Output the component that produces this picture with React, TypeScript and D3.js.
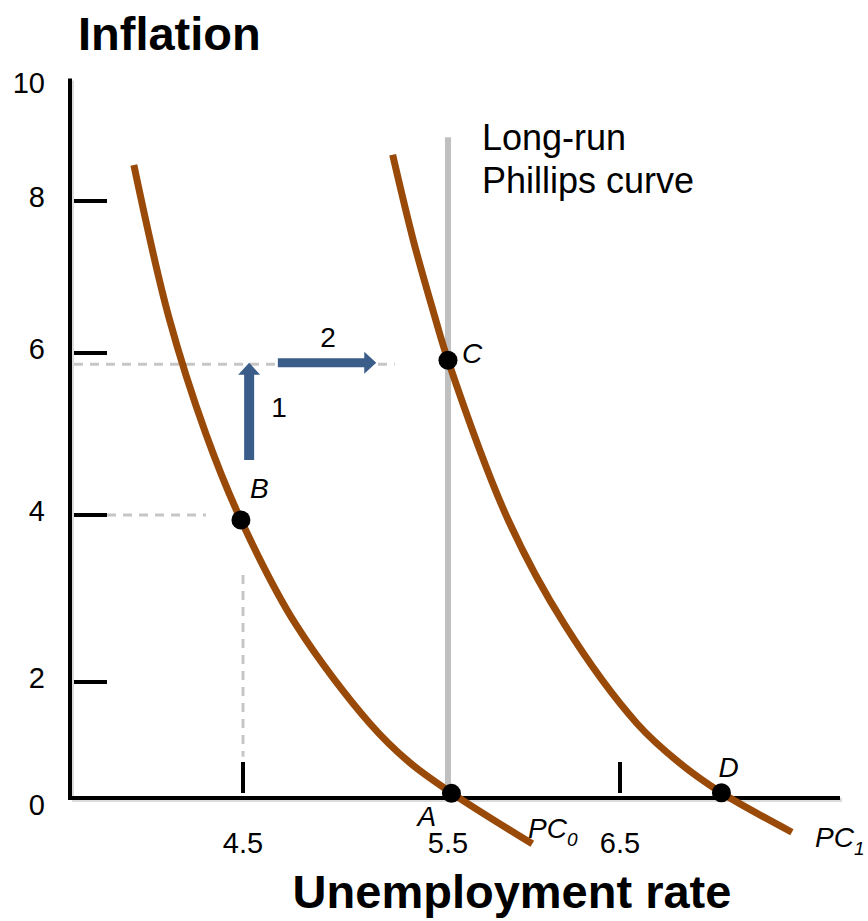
import { useEffect } from 'react';
import * as d3 from 'd3';

// axis ticks
const yTicks = [0, 2, 4, 6, 8, 10];
const yTickMarks = [2, 4, 6, 8];
const xTicks = [4.5, 5.5, 6.5];
const xTickMarks = [4.5, 6.5];

// short-run Phillips curves (unemployment %, inflation %)
const pc0U = [3.97, 4.14, 4.32, 4.49, 4.76, 5.12, 5.31, 5.52, 5.99];
const pc0Pi = [8.63, 6.47, 5.0, 3.94, 2.68, 1.28, 0.62, 0.09, -0.79];
const pc1U = [5.23, 5.33, 5.43, 5.5, 5.85, 6.18, 6.6, 6.84, 7.09, 7.5];
const pc1Pi = [8.81, 7.49, 6.53, 5.91, 3.94, 2.68, 1.28, 0.62, 0.09, -0.59];

// long-run Phillips curve
const lrpcU = 5.5;
const lrpcTop = 9.12;

// labelled points
const pointNames = ['A', 'B', 'C', 'D'];
const pointU = [5.52, 4.49, 5.5, 7.09];
const pointPi = [0.08, 3.94, 5.91, 0.09];

// guide lines and arrows
const guideHigh = 5.86;
const guideLow = 4;
const arrowPi = 5.88;

export default function App() {
  useEffect(() => {
    document.body.style.margin = '0';
  }, []);

  const width = 868;
  const height = 921;
  const font = '"Liberation Sans", Arial, Helvetica, sans-serif';

  const x = d3.scaleLinear().domain([3.66, 4.5, 5.5, 6.5, 7.78]).range([70, 243, 448, 620, 840]);
  const y = d3.scaleLinear().domain([0, 2, 4, 6, 8, 10]).range([798, 682, 515, 353, 201, 87]);

  const line = d3
    .line<[number, number]>()
    .x((d) => x(d[0]))
    .y((d) => y(d[1]))
    .curve(d3.curveCatmullRom.alpha(0.5));

  const pc0 = pc0U.map((u, i) => [u, pc0Pi[i]] as [number, number]);
  const pc1 = pc1U.map((u, i) => [u, pc1Pi[i]] as [number, number]);

  const curveColor = '#9a4a08';
  const arrowColor = '#3a5d8a';
  const guideColor = '#c6c6c6';

  // label offsets around each dot
  const labelOffset: Record<string, [number, number]> = {
    A: [-34, 33],
    B: [9, -22],
    C: [14, 3],
    D: [-3, -16],
  };

  // arrow 1 (vertical) and arrow 2 (horizontal)
  const a1x = x(4.53);
  const a1y0 = y(4.68);
  const a1y1 = y(arrowPi);
  const a1 = [
    [a1x - 5, a1y0],
    [a1x - 5, a1y1 + 12],
    [a1x - 11, a1y1 + 12],
    [a1x, a1y1],
    [a1x + 11, a1y1 + 12],
    [a1x + 5, a1y1 + 12],
    [a1x + 5, a1y0],
  ];
  const a2y = y(arrowPi);
  const a2x0 = x(4.67);
  const a2x1 = x(5.15);
  const a2 = [
    [a2x0, a2y - 4.5],
    [a2x1 - 12, a2y - 4.5],
    [a2x1 - 12, a2y - 11],
    [a2x1, a2y],
    [a2x1 - 12, a2y + 11],
    [a2x1 - 12, a2y + 4.5],
    [a2x0, a2y + 4.5],
  ];

  const x0 = x(3.66);
  const xEnd = x(7.78);

  return (
    <div style={{ position: 'absolute', left: 0, top: 0 }}>
      <svg width={width} height={height} style={{ display: 'block', background: '#fff' }} fontFamily={font}>
        {/* titles */}
        <text x={78} y={50} fontSize={47} fontWeight="bold" fill="#000">
          Inflation
        </text>
        <text x={512} y={908} fontSize={47} fontWeight="bold" textAnchor="middle" fill="#000">
          Unemployment rate
        </text>

        {/* dashed guides */}
        <g stroke={guideColor} strokeWidth={3} strokeDasharray="9,7" fill="none">
          <line x1={x0 + 4} x2={x(5.24)} y1={y(guideHigh)} y2={y(guideHigh)} />
          <line x1={x0 + 5} x2={x(4.32)} y1={y(guideLow)} y2={y(guideLow)} />
          <line x1={x(4.5)} x2={x(4.5)} y1={y(3.28)} y2={y(0.71)} />
        </g>

        {/* long-run Phillips curve */}
        <line x1={x(lrpcU)} x2={x(lrpcU)} y1={y(lrpcTop)} y2={y(0)} stroke="#c0c0c0" strokeWidth={6} />
        <text x={482} y={150} fontSize={36} fill="#000">
          Long-run
        </text>
        <text x={482} y={193} fontSize={36} fill="#000">
          Phillips curve
        </text>

        {/* axes with a soft shadow */}
        <g stroke="#b8b8b8" strokeWidth={4} opacity={0.5}>
          <line x1={x0 + 2} x2={x0 + 2} y1={y(10.15) + 2} y2={y(0) + 2} />
          <line x1={x0 + 2} x2={xEnd + 2} y1={y(0) + 2} y2={y(0) + 2} />
        </g>
        <g stroke="#000" strokeWidth={4}>
          <line x1={x0} x2={x0} y1={y(10.15)} y2={y(0) + 2} />
          <line x1={x0 - 2} x2={xEnd} y1={y(0)} y2={y(0)} />
          {yTickMarks.map((t) => (
            <line key={t} x1={x0 + 4} x2={x0 + 37} y1={y(t)} y2={y(t)} />
          ))}
          {xTickMarks.map((t) => (
            <line key={t} x1={x(t)} x2={x(t)} y1={y(0) - 36} y2={y(0) - 5} />
          ))}
        </g>
        {yTicks.map((t) => (
          <text key={t} x={45} y={t === 0 ? y(t) + 17 : y(t) + 6} fontSize={29} textAnchor="end" fill="#000">
            {t}
          </text>
        ))}
        {xTicks.map((t) => (
          <text key={t} x={x(t)} y={853} fontSize={29} textAnchor="middle" fill="#000">
            {t}
          </text>
        ))}

        {/* short-run Phillips curves */}
        <path d={line(pc0) || ''} fill="none" stroke={curveColor} strokeWidth={7} />
        <path d={line(pc1) || ''} fill="none" stroke={curveColor} strokeWidth={7} />
        <text x={528} y={838} fontSize={28} fontStyle="italic" fill="#000">
          PC<tspan fontSize={19} dy={8}>0</tspan>
        </text>
        <text x={815} y={847} fontSize={28} fontStyle="italic" fill="#000">
          PC<tspan fontSize={19} dy={8}>1</tspan>
        </text>

        {/* arrows */}
        <polygon points={a1.map((p) => p.join(',')).join(' ')} fill={arrowColor} />
        <polygon points={a2.map((p) => p.join(',')).join(' ')} fill={arrowColor} />
        <text x={279} y={417} fontSize={28} textAnchor="middle" fill="#000">
          1
        </text>
        <text x={328} y={347} fontSize={28} textAnchor="middle" fill="#000">
          2
        </text>

        {/* points */}
        {pointNames.map((n, i) => {
          const px = x(pointU[i]);
          const py = y(pointPi[i]);
          const [dx, dy] = labelOffset[n];
          return (
            <g key={n}>
              <circle cx={px} cy={py} r={9.5} fill="#000" />
              <text x={px + dx} y={py + dy} fontSize={28} fontStyle="italic" fill="#000">
                {n}
              </text>
            </g>
          );
        })}
      </svg>
    </div>
  );
}
